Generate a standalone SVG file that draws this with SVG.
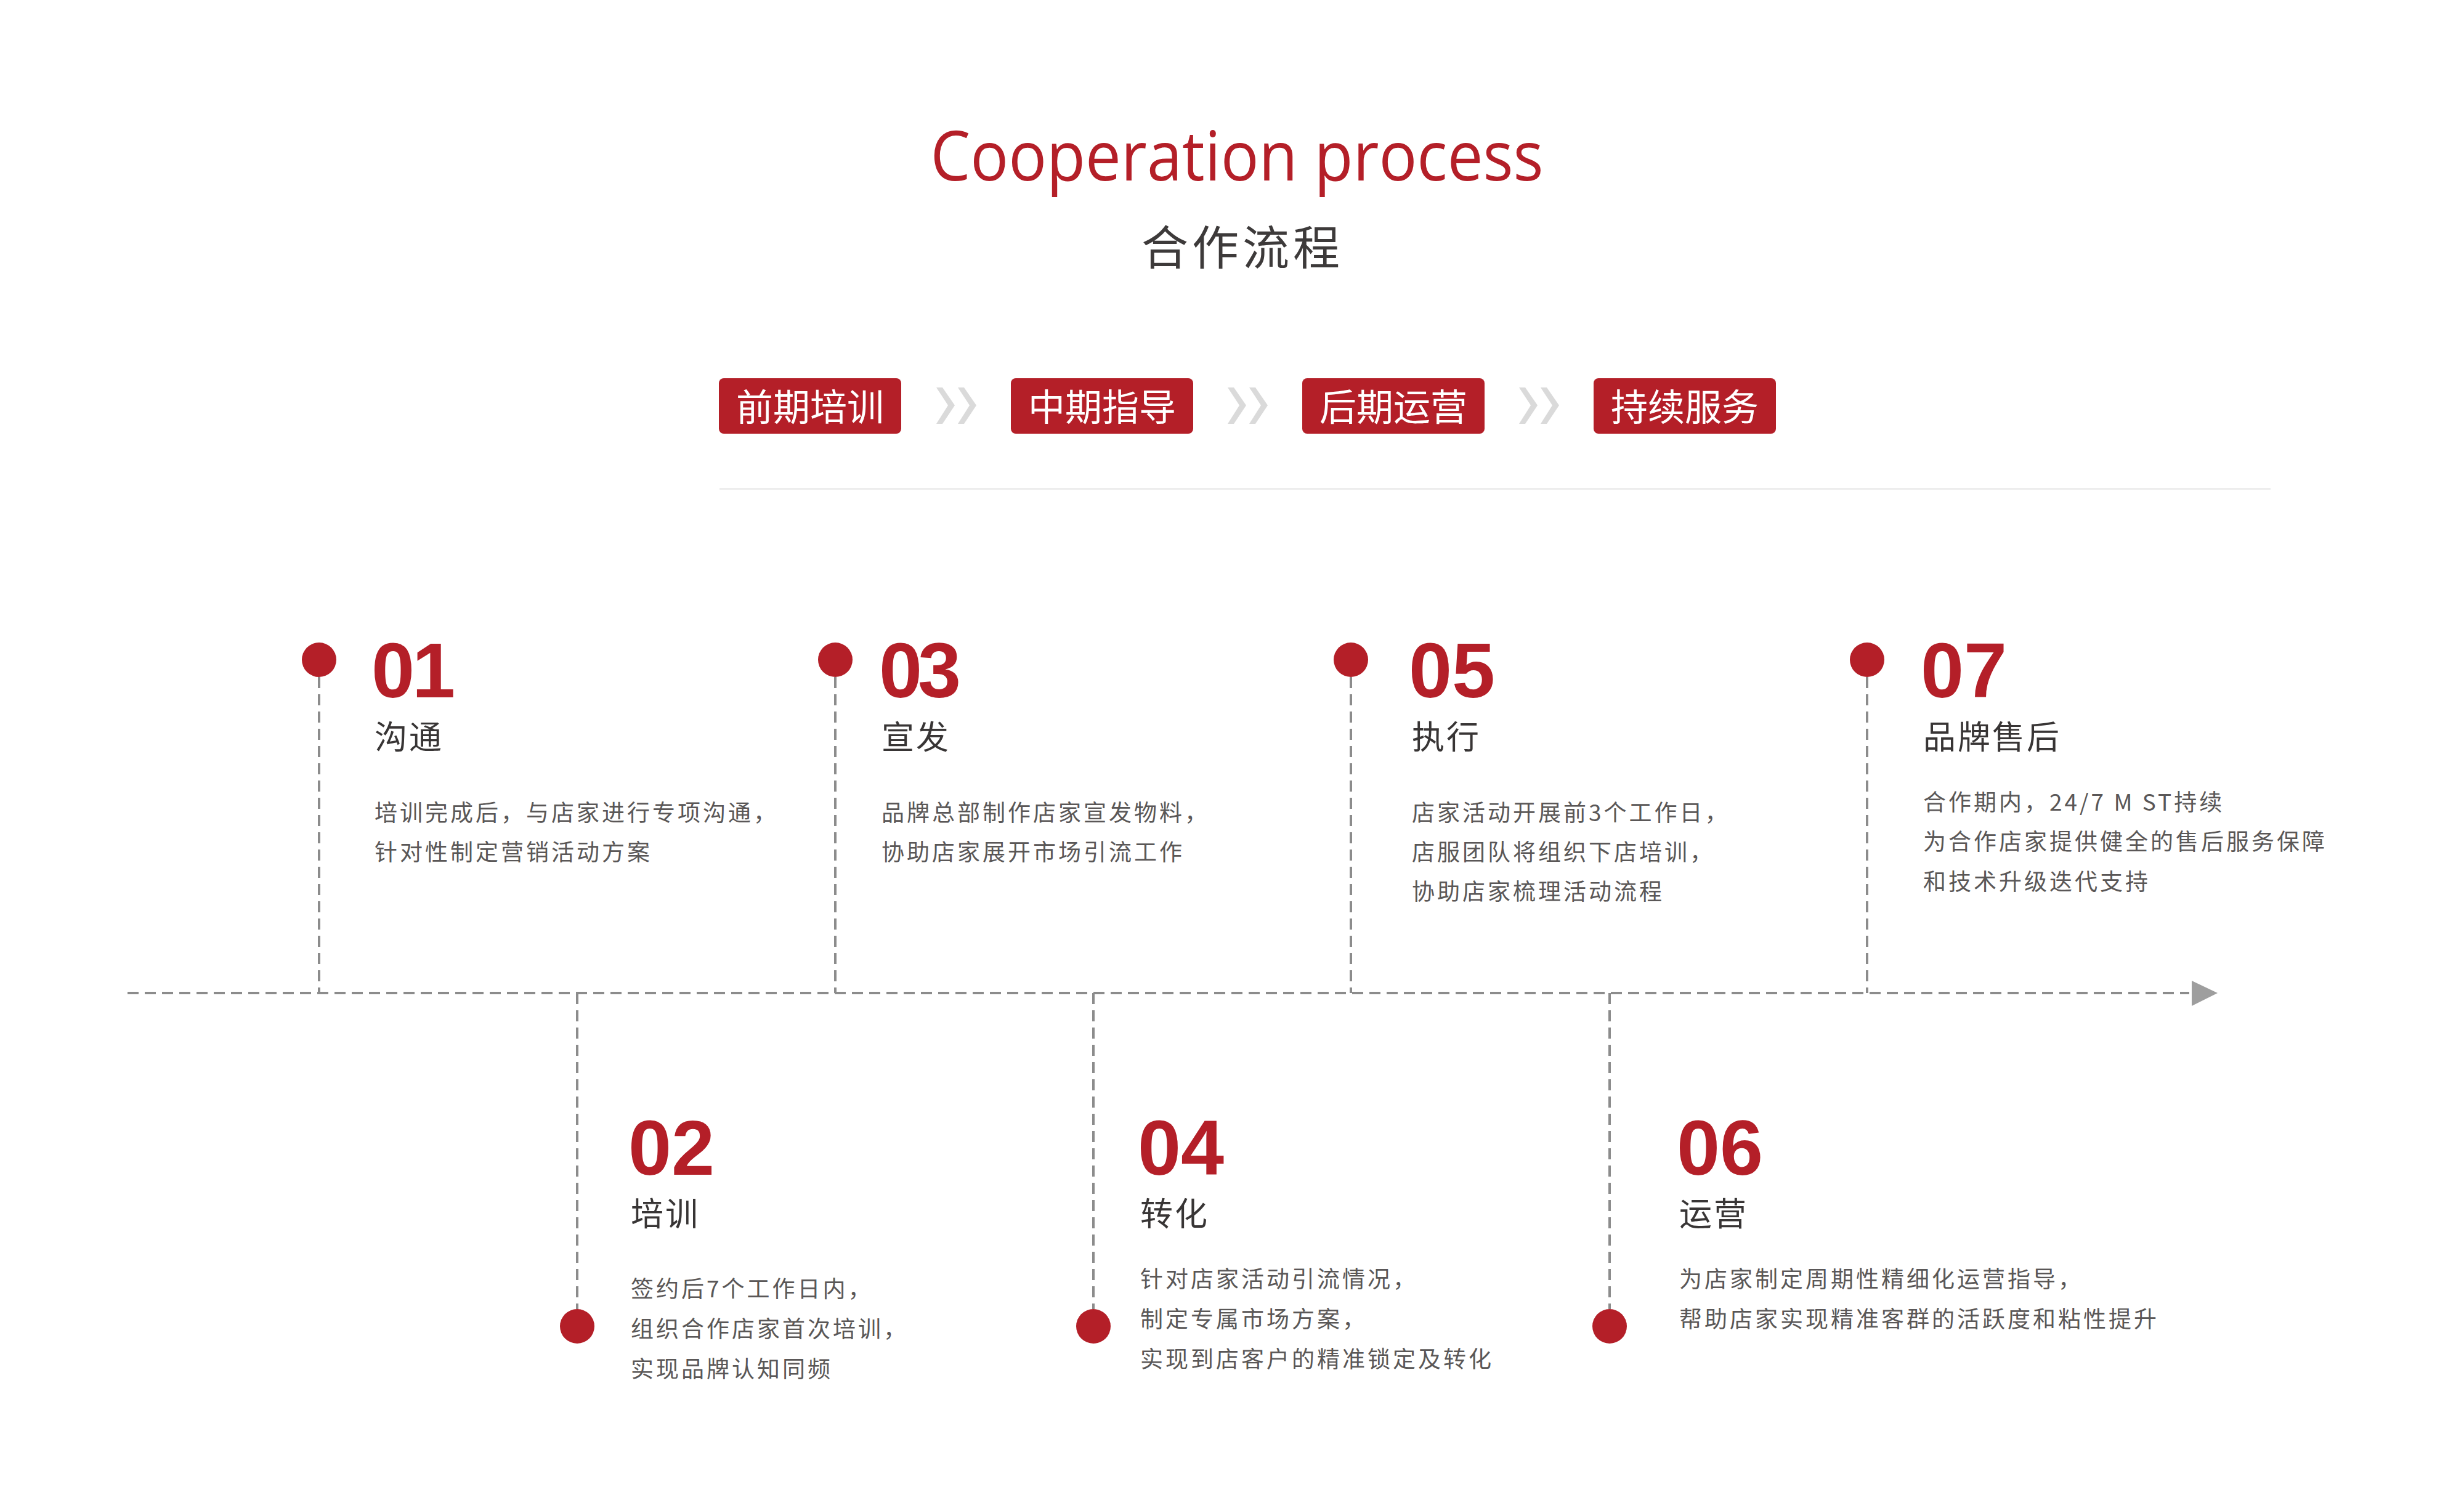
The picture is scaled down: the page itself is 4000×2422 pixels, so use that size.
<svg xmlns="http://www.w3.org/2000/svg" width="4000" height="2422" viewBox="0 0 4000 2422">
<style>
.bg{fill:#ffffff}
.tag{fill:#b41f28}
.tagt{font-family:"Noto Sans CJK SC","Noto Sans",sans-serif;font-size:60px;fill:#ffffff;text-anchor:middle}
.chev{fill:#dadada}
.num{font-family:"Liberation Sans",Arial,sans-serif;font-weight:bold;font-size:126px;fill:#b41f28}
.ttl{font-family:"Noto Sans CJK SC","Noto Sans",sans-serif;font-size:53px;letter-spacing:3px;fill:#383535}
.dsc{font-family:"Noto Sans CJK SC","Noto Sans",sans-serif;font-size:37px;letter-spacing:4px;fill:#5a5757}
.dot{fill:#b41f28}
.dash{stroke:#8c8c8c;stroke-width:4;stroke-dasharray:18 10;fill:none}
</style>
<rect class="bg" x="0" y="0" width="4000" height="2422"/>
<g id="header">
<text x="2008" y="293" text-anchor="middle" font-family="'Open Sans','Noto Sans',sans-serif" font-size="112" fill="#b41f28" textLength="995" lengthAdjust="spacingAndGlyphs">Cooperation process</text>
<text x="1853" y="430" font-family="'Noto Sans CJK SC','Noto Sans',sans-serif" font-size="76" letter-spacing="6" fill="#3d3a3a">合作流程</text>
</g>
<g id="tags">
<g id="tag1"><rect class="tag" x="1167" y="614" width="296" height="90" rx="8"/><text class="tagt" x="1315" y="683">前期培训</text></g>
<g id="tag2"><rect class="tag" x="1641" y="614" width="296" height="90" rx="8"/><text class="tagt" x="1789" y="683">中期指导</text></g>
<g id="tag3"><rect class="tag" x="2114" y="614" width="296" height="90" rx="8"/><text class="tagt" x="2262" y="683">后期运营</text></g>
<g id="tag4"><rect class="tag" x="2587" y="614" width="296" height="90" rx="8"/><text class="tagt" x="2735" y="683">持续服务</text></g>
</g>
<g id="chevrons">
<g transform="translate(1520,0)"><polygon class="chev" points="0,629 10,629 30,658 10,688 0,688 19,658"/><polygon class="chev" points="35,629 45,629 65,658 45,688 35,688 54,658"/></g>
<g transform="translate(1993,0)"><polygon class="chev" points="0,629 10,629 30,658 10,688 0,688 19,658"/><polygon class="chev" points="35,629 45,629 65,658 45,688 35,688 54,658"/></g>
<g transform="translate(2466,0)"><polygon class="chev" points="0,629 10,629 30,658 10,688 0,688 19,658"/><polygon class="chev" points="35,629 45,629 65,658 45,688 35,688 54,658"/></g>
</g>
<rect id="separator" x="1168" y="792" width="2518" height="3" fill="#ededed"/>
<g id="connectors">
<line class="dash" x1="207" y1="1612" x2="3554" y2="1612"/>
<polygon points="3558,1592 3600,1612 3558,1633" fill="#9e9e9e"/>
<line class="dash" x1="518" y1="1099" x2="518" y2="1612"/>
<line class="dash" x1="1356" y1="1099" x2="1356" y2="1612"/>
<line class="dash" x1="2193" y1="1099" x2="2193" y2="1612"/>
<line class="dash" x1="3031" y1="1099" x2="3031" y2="1612"/>
<line class="dash" x1="937" y1="1612" x2="937" y2="2125"/>
<line class="dash" x1="1775" y1="1612" x2="1775" y2="2125"/>
<line class="dash" x1="2613" y1="1612" x2="2613" y2="2125"/>
</g>
<g id="step01">
<circle class="dot" cx="518" cy="1071" r="28"/>
<text class="num" x="603" y="1132" dx="0 -4">01</text>
<text class="ttl" x="608" y="1216">沟通</text>
<text class="dsc" x="608" y="1333">培训完成后，与店家进行专项沟通，</text>
<text class="dsc" x="608" y="1397">针对性制定营销活动方案</text>
</g>
<g id="step03">
<circle class="dot" cx="1356" cy="1071" r="28"/>
<text class="num" x="1427" y="1132" dx="0 -7">03</text>
<text class="ttl" x="1431" y="1216">宣发</text>
<text class="dsc" x="1431" y="1333">品牌总部制作店家宣发物料，</text>
<text class="dsc" x="1431" y="1397">协助店家展开市场引流工作</text>
</g>
<g id="step05">
<circle class="dot" cx="2193" cy="1071" r="28"/>
<text class="num" x="2287" y="1132">05</text>
<text class="ttl" x="2292" y="1216">执行</text>
<text class="dsc" x="2292" y="1333">店家活动开展前3个工作日，</text>
<text class="dsc" x="2292" y="1397">店服团队将组织下店培训，</text>
<text class="dsc" x="2292" y="1461">协助店家梳理活动流程</text>
</g>
<g id="step07">
<circle class="dot" cx="3031" cy="1071" r="28"/>
<text class="num" x="3118" y="1132">07</text>
<text class="ttl" x="3122" y="1216">品牌售后</text>
<text class="dsc" x="3122" y="1316">合作期内，24/7 M ST持续</text>
<text class="dsc" x="3122" y="1380">为合作店家提供健全的售后服务保障</text>
<text class="dsc" x="3122" y="1445">和技术升级迭代支持</text>
</g>
<g id="step02">
<circle class="dot" cx="937" cy="2153" r="28"/>
<text class="num" x="1020" y="1907">02</text>
<text class="ttl" x="1024" y="1990">培训</text>
<text class="dsc" x="1024" y="2106">签约后7个工作日内，</text>
<text class="dsc" x="1024" y="2171">组织合作店家首次培训，</text>
<text class="dsc" x="1024" y="2236">实现品牌认知同频</text>
</g>
<g id="step04">
<circle class="dot" cx="1775" cy="2153" r="28"/>
<text class="num" x="1847" y="1907">04</text>
<text class="ttl" x="1851" y="1990">转化</text>
<text class="dsc" x="1851" y="2090">针对店家活动引流情况，</text>
<text class="dsc" x="1851" y="2155">制定专属市场方案，</text>
<text class="dsc" x="1851" y="2220">实现到店客户的精准锁定及转化</text>
</g>
<g id="step06">
<circle class="dot" cx="2613" cy="2153" r="28"/>
<text class="num" x="2722" y="1907">06</text>
<text class="ttl" x="2726" y="1990">运营</text>
<text class="dsc" x="2726" y="2090">为店家制定周期性精细化运营指导，</text>
<text class="dsc" x="2726" y="2155">帮助店家实现精准客群的活跃度和粘性提升</text>
</g>
</svg>
